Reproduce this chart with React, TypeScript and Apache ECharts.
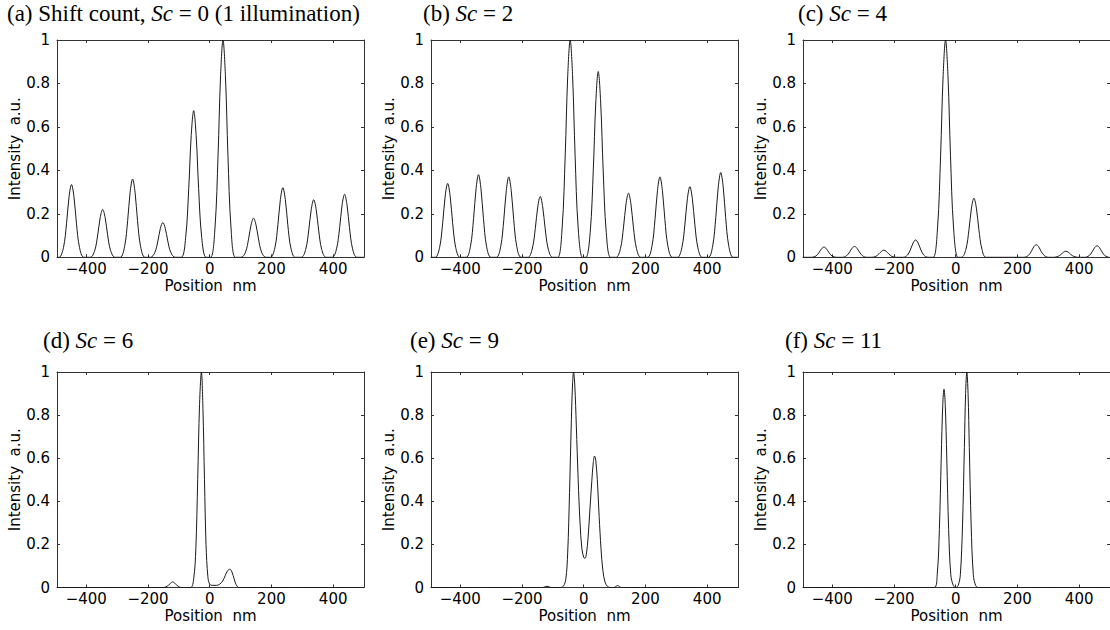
import React, { useEffect, useRef } from "react";
import * as echarts from "echarts";

// Position axis range and tick positions (nm)
const X_MIN = -495;
const X_MAX = 500;
const X_TICKS = [-400, -200, 0, 200, 400];

// Panel titles ({i|...} is rendered in italics)
const PANEL_TITLES = [
  "(a) Shift count, {i|Sc} = 0 (1 illumination)",
  "(b) {i|Sc} = 2",
  "(c) {i|Sc} = 4",
  "(d) {i|Sc} = 6",
  "(e) {i|Sc} = 9",
  "(f) {i|Sc} = 11",
];

// Intensity profiles: [position nm, intensity a.u.]
const sc0: [number, number][] = [
  [-495, 0],
  [-488, 0], [-474, 0.045], [-464, 0.157], [-456, 0.278], [-448, 0.335], [-440, 0.278], [-432, 0.157], [-422, 0.045], [-408, 0],
  [-387, 0], [-373, 0.03], [-363, 0.103], [-355, 0.183], [-347, 0.22], [-339, 0.183], [-331, 0.103], [-321, 0.03], [-307, 0],
  [-290, 0], [-276, 0.049], [-266, 0.169], [-258, 0.299], [-250, 0.36], [-242, 0.299], [-234, 0.169], [-224, 0.049], [-210, 0],
  [-192, 0], [-178, 0.022], [-168, 0.075], [-160, 0.133], [-152, 0.16], [-144, 0.133], [-136, 0.075], [-126, 0.022], [-112, 0],
  [-92, 0], [-78, 0.091], [-68, 0.317], [-60, 0.56], [-52, 0.675], [-44, 0.56], [-36, 0.317], [-26, 0.091], [-12, 0],
  [3, 0], [17, 0.135], [27, 0.47], [35, 0.83], [43, 1], [51, 0.83], [59, 0.47], [69, 0.135], [83, 0],
  [102, 0], [116, 0.024], [126, 0.085], [134, 0.149], [142, 0.18], [150, 0.149], [158, 0.085], [168, 0.024], [182, 0],
  [197, 0], [211, 0.043], [221, 0.15], [229, 0.266], [237, 0.32], [245, 0.266], [253, 0.15], [263, 0.043], [277, 0],
  [297, 0], [311, 0.036], [321, 0.125], [329, 0.22], [337, 0.265], [345, 0.22], [353, 0.125], [363, 0.036], [377, 0],
  [397, 0], [411, 0.039], [421, 0.136], [429, 0.241], [437, 0.29], [445, 0.241], [453, 0.136], [463, 0.039], [477, 0],
  [500, 0],
];

const sc2: [number, number][] = [
  [-495, 0],
  [-481, 0], [-467, 0.046], [-457, 0.16], [-449, 0.282], [-441, 0.34], [-433, 0.282], [-425, 0.16], [-415, 0.046], [-401, 0],
  [-381, 0], [-367, 0.051], [-357, 0.179], [-349, 0.315], [-341, 0.38], [-333, 0.315], [-325, 0.179], [-315, 0.051], [-301, 0],
  [-283, 0], [-269, 0.05], [-259, 0.174], [-251, 0.307], [-243, 0.37], [-235, 0.307], [-227, 0.174], [-217, 0.05], [-203, 0],
  [-181, 0], [-167, 0.038], [-157, 0.132], [-149, 0.232], [-141, 0.28], [-133, 0.232], [-125, 0.132], [-115, 0.038], [-101, 0],
  [-84, 0], [-70, 0.135], [-60, 0.47], [-52, 0.83], [-44, 1], [-36, 0.83], [-28, 0.47], [-18, 0.135], [-4, 0],
  [7, 0], [21, 0.115], [31, 0.402], [39, 0.71], [47, 0.855], [55, 0.71], [63, 0.402], [73, 0.115], [87, 0],
  [105, 0], [119, 0.04], [129, 0.139], [137, 0.245], [145, 0.295], [153, 0.245], [161, 0.139], [171, 0.04], [185, 0],
  [207, 0], [221, 0.05], [231, 0.174], [239, 0.307], [247, 0.37], [255, 0.307], [263, 0.174], [273, 0.05], [287, 0],
  [304, 0], [318, 0.044], [328, 0.153], [336, 0.27], [344, 0.325], [352, 0.27], [360, 0.153], [370, 0.044], [384, 0],
  [404, 0], [418, 0.053], [428, 0.183], [436, 0.324], [444, 0.39], [452, 0.324], [460, 0.183], [470, 0.053], [484, 0],
  [500, 0],
];

const sc4: [number, number][] = [
  [-495, 0],
  [-467, 0], [-453, 0.006], [-443, 0.022], [-435, 0.039], [-427, 0.047], [-419, 0.039], [-411, 0.022], [-401, 0.006], [-387, 0],
  [-368, 0], [-354, 0.007], [-344, 0.024], [-336, 0.042], [-328, 0.05], [-320, 0.042], [-312, 0.024], [-302, 0.007], [-288, 0],
  [-273, 0], [-259, 0.004], [-249, 0.016], [-241, 0.027], [-233, 0.033], [-225, 0.027], [-217, 0.016], [-207, 0.004], [-193, 0],
  [-170, 0], [-156, 0.011], [-146, 0.038], [-138, 0.066], [-130, 0.08], [-122, 0.066], [-114, 0.038], [-104, 0.011], [-90, 0],
  [-73, 0], [-59, 0.135], [-49, 0.47], [-41, 0.83], [-33, 1], [-25, 0.83], [-17, 0.47], [-7, 0.135], [7, 0],
  [19, 0], [33, 0.037], [43, 0.128], [51, 0.226], [59, 0.272], [67, 0.226], [75, 0.128], [85, 0.037], [99, 0],
  [221, 0], [235, 0.008], [245, 0.027], [253, 0.048], [261, 0.058], [269, 0.048], [277, 0.027], [287, 0.008], [301, 0],
  [317, 0], [331, 0.004], [341, 0.013], [349, 0.023], [357, 0.028], [365, 0.023], [373, 0.013], [383, 0.004], [397, 0],
  [418, 0], [432, 0.007], [442, 0.025], [450, 0.044], [458, 0.053], [466, 0.044], [474, 0.025], [484, 0.007], [498, 0],
  [500, 0],
];

const sc6: [number, number][] = [
  [-495, 0],
  [-150, 0], [-138, 0.006], [-128, 0.018], [-120, 0.026], [-112, 0.018], [-102, 0.005], [-92, 0],
  [-62, 0], [-52, 0.04], [-45, 0.18], [-39, 0.5], [-33, 0.85], [-27, 1], [-22, 0.83], [-17, 0.5], [-12, 0.2], [-6, 0.05],
  [0, 0.015], [10, 0.01], [22, 0.01], [32, 0.015], [42, 0.03], [50, 0.055], [58, 0.078], [65, 0.085], [72, 0.072],
  [79, 0.04], [86, 0.012], [95, 0],
  [500, 0],
];

const sc9: [number, number][] = [
  [-495, 0],
  [-132, 0], [-119, 0.006], [-106, 0],
  [-78, 0], [-66, 0.006], [-58, 0.04], [-52, 0.16], [-46, 0.44], [-40, 0.78], [-36, 0.95], [-33, 1], [-29, 0.94],
  [-24, 0.75], [-18, 0.5], [-12, 0.3], [-6, 0.18], [0, 0.14], [4, 0.135], [9, 0.16], [14, 0.23], [20, 0.36],
  [26, 0.49], [31, 0.58], [35, 0.61], [39, 0.59], [44, 0.5], [50, 0.33], [56, 0.18], [62, 0.08], [69, 0.025],
  [77, 0.005], [86, 0],
  [98, 0], [110, 0.009], [122, 0],
  [500, 0],
];

const sc11: [number, number][] = [
  [-495, 0],
  [-70, 0], [-60, 0.06], [-53, 0.27], [-47, 0.6], [-42, 0.85], [-38, 0.92], [-34, 0.85], [-29, 0.6], [-23, 0.27],
  [-16, 0.06], [-8, 0.01], [0, 0], [8, 0.01], [15, 0.06], [22, 0.29], [28, 0.65], [32, 0.9], [36, 1], [40, 0.9],
  [44, 0.65], [50, 0.29], [57, 0.06], [65, 0.008], [74, 0],
  [500, 0],
];

const PROFILES = [sc0, sc2, sc4, sc6, sc9, sc11];

// Plot boxes (px) and title anchors
const BOXES = [
  { left: 57, top: 40, height: 217.3 },
  { left: 431, top: 40, height: 217.3 },
  { left: 803, top: 40, height: 217.3 },
  { left: 57, top: 372, height: 215.5 },
  { left: 431, top: 372, height: 215.5 },
  { left: 803, top: 372, height: 215.5 },
];
const BOX_WIDTH = 307;
const TITLE_POS = [
  { left: 7, top: 2 },
  { left: 423, top: 2 },
  { left: 798, top: 2 },
  { left: 43, top: 329 },
  { left: 410, top: 329 },
  { left: 785, top: 329 },
];

const SANS = "DejaVu Sans";
const SERIF = "Liberation Serif";
const AXIS_COLOR = "#333";

function buildOption(): echarts.EChartsOption {
  const lineStyle = { color: AXIS_COLOR, width: 1 };
  const grid = BOXES.map((b) => ({
    left: b.left,
    top: b.top,
    width: BOX_WIDTH,
    height: b.height,
    containLabel: false,
  }));

  const xAxis: any[] = [];
  const yAxis: any[] = [];
  BOXES.forEach((_, i) => {
    const xBase = {
      type: "value",
      gridIndex: i,
      min: X_MIN,
      max: X_MAX,
      splitLine: { show: false },
      axisLine: { show: true, onZero: false, lineStyle },
      axisTick: { show: true, inside: true, length: 3, customValues: X_TICKS, lineStyle },
    };
    xAxis.push({
      ...xBase,
      position: "bottom",
      axisLabel: {
        show: true,
        customValues: X_TICKS,
        formatter: (v: number) => String(v).replace("-", "\u2212"),
        fontFamily: SANS,
        fontSize: 15,
        color: "#000",
        margin: 4,
      },
      name: "Position  nm",
      nameLocation: "middle",
      nameGap: 21,
      nameTextStyle: { fontFamily: SANS, fontSize: 15, color: "#000" },
    });
    xAxis.push({
      ...xBase,
      position: "top",
      axisLabel: { show: false },
    });

    const yBase = {
      type: "value",
      gridIndex: i,
      min: 0,
      max: 1,
      interval: 0.2,
      splitLine: { show: false },
      axisLine: { show: true, onZero: false, lineStyle },
      axisTick: { show: true, inside: true, length: 3, lineStyle },
    };
    yAxis.push({
      ...yBase,
      position: "left",
      axisLabel: {
        show: true,
        formatter: (v: number) => (v === 0 ? "0" : v === 1 ? "1" : v.toFixed(1)),
        fontFamily: SANS,
        fontSize: 15,
        color: "#000",
        margin: 7,
      },
      name: "Intensity  a.u.",
      nameLocation: "middle",
      nameRotate: 90,
      nameGap: 28,
      nameTextStyle: { fontFamily: SANS, fontSize: 15, color: "#000" },
    });
    yAxis.push({
      ...yBase,
      position: "right",
      axisLabel: { show: false },
    });
  });

  const series = PROFILES.map((data, i) => ({
    type: "line",
    xAxisIndex: 2 * i,
    yAxisIndex: 2 * i,
    data,
    symbol: "none",
    showSymbol: false,
    smooth: 0.35,
    silent: true,
    lineStyle: { color: "#1a1a1a", width: 1 },
  }));

  const title = PANEL_TITLES.map((text, i) => ({
    text,
    left: TITLE_POS[i].left,
    top: TITLE_POS[i].top,
    padding: 0,
    textStyle: {
      fontFamily: SERIF,
      fontSize: 23,
      fontWeight: "normal",
      color: "#000",
      rich: {
        i: { fontFamily: SERIF, fontSize: 23, fontStyle: "italic", color: "#000" },
      },
    },
  }));

  return {
    animation: false,
    backgroundColor: "#fff",
    title,
    grid,
    xAxis,
    yAxis,
    series,
  } as echarts.EChartsOption;
}

export default function App() {
  const ref = useRef<HTMLDivElement>(null);
  useEffect(() => {
    if (!ref.current) return;
    const chart = echarts.init(ref.current, null, { renderer: "svg" });
    chart.setOption(buildOption());
    return () => chart.dispose();
  }, []);
  return (
    <div
      ref={ref}
      style={{ position: "absolute", left: 0, top: 0, width: 1110, height: 630, background: "#fff" }}
    />
  );
}
